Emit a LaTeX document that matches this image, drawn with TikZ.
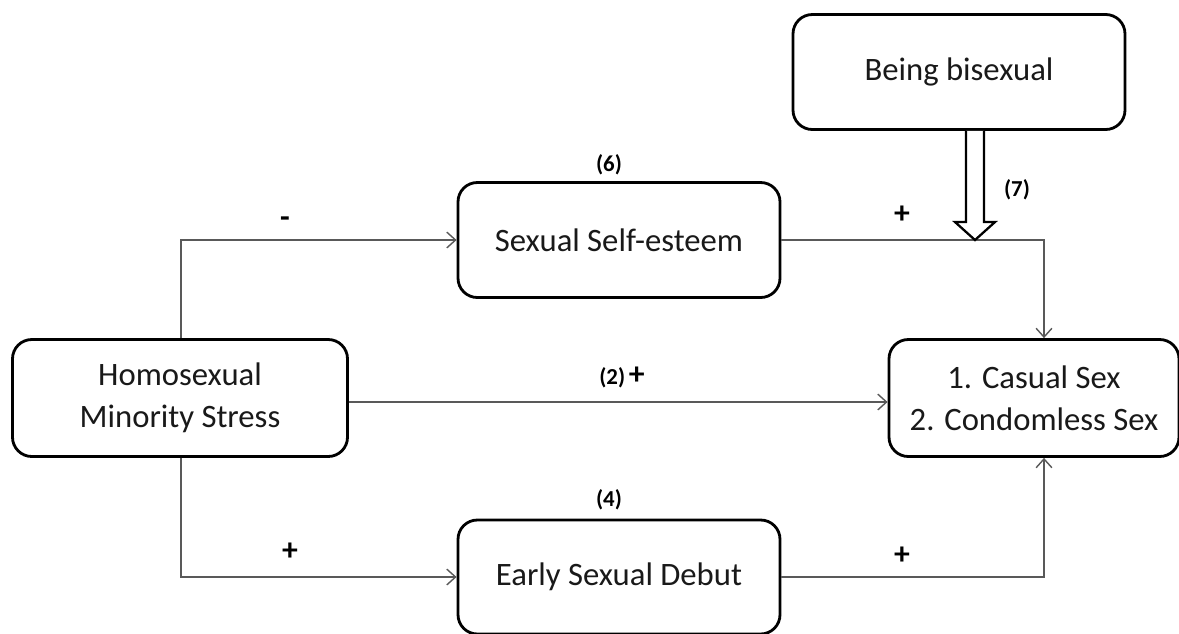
\documentclass[tikz,border=0pt]{standalone}
\usepackage{fontspec}
\setmainfont{Carlito}
\usetikzlibrary{arrows.meta}
\begin{document}
\begin{tikzpicture}[x=0.02cm,y=-0.02cm,
  box/.style={draw=black,line width=1.6pt,rounded corners=11pt,fill=white,align=center,inner sep=0pt,font=\fontsize{18.6}{24}\selectfont,text=black!90},
  conn/.style={draw=black!65,line width=0.8pt,-{Straight Barb[length=5pt,width=9pt,line width=0.8pt]}},
  lab/.style={font=\fontsize{13}{15}\selectfont\bfseries,inner sep=0pt},
  sgn/.style={font=\fontsize{18}{18}\selectfont\bfseries,inner sep=0pt}]
\useasboundingbox (0,0) rectangle (1179,633);
\node[box,minimum width=332*0.02cm,minimum height=115*0.02cm] (bi) at (959,72) {Being bisexual};
\node[box,minimum width=322*0.02cm,minimum height=115*0.02cm] (se) at (619,240) {Sexual Self-esteem};
\node[box,minimum width=335*0.02cm,minimum height=117*0.02cm] (hm) at (180,398) {Homosexual\\Minority Stress};
\node[box,minimum width=290*0.02cm,minimum height=117*0.02cm] (cs) at (1034,398) {1. Casual Sex\\2. Condomless Sex};
\node[box,minimum width=322*0.02cm,minimum height=114*0.02cm] (ed) at (619,577) {Early Sexual Debut};
% connectors
\draw[conn] (hm.north -| 181,0) |- (se.west);
\draw[conn] (hm.south -| 181,0) |- (ed.west);
\draw[conn] (hm.east |- 0,402) -- (cs.west |- 0,402);
\draw[conn] (se.east) -| (cs.north -| 1044,0);
\draw[conn] (ed.east) -| (cs.south -| 1044,0);
% double arrow
\coordinate (tip) at (975,240);
\draw[line width=1.3pt,fill=white,line join=miter]
  (bi.south -| 966,0) -- (966,222) -- (955,222) -- (tip) -- (995,222) -- (984,222) -- (bi.south -| 984,0);
% labels
\node[sgn] (l1) at (285,222) {-};
\node[lab] (l2) at (609,165) {(6)};
\node[sgn] (l3) at (902,215) {+};
\node[lab] (l4) at (1017,190) {(7)};
\node[lab] (l5) at (622,377) {(2)\,\fontsize{18}{18}\selectfont+};
\node[lab] (l6) at (609,500) {(4)};
\node[sgn] (l7) at (290,552) {+};
\node[sgn] (l8) at (902,556) {+};
\end{tikzpicture}
\end{document}
